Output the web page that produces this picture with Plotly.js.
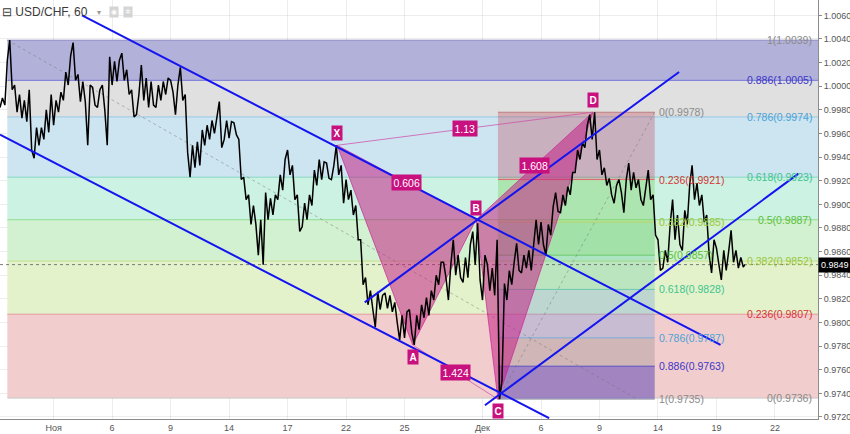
<!DOCTYPE html>
<html><head><meta charset="utf-8">
<script src="https://cdn.plot.ly/plotly-3.0.1.min.js"></script>
<style>html,body{margin:0;padding:0;background:#fff}#chart{width:850px;height:434px}</style>
</head><body><div id="chart"></div>
<script>
// ---------- DATA ----------
// x axis unit: hourly bar index (chart is USD/CHF, 60 min)
const tickBars = [66,138,210,282,354,426,498,594,666,738,810,882,954];
const tickLabels = ['Ноя','6','9','14','17','22','25','Дек','6','9','14','19','22'];

const sampleStep = 6; // bars between price samples
const priceHigh = [
0.9990,1.0022,1.0039,1.0001,0.9993,0.9988,0.9997,0.9965,0.9965,0.9980,
0.9993,0.9988,0.9995,1.0012,1.0026,1.0037,1.0010,1.0004,1.0001,0.9999,
0.9997,1.0001,1.0025,1.0021,1.0022,1.0028,1.0014,0.9997,0.9993,1.0018,
1.0007,1.0004,1.0001,1.0004,1.0007,1.0005,1.0001,1.0016,0.9993,0.9950,
0.9953,0.9963,0.9967,0.9971,0.9973,0.9987,0.9971,0.9970,0.9969,0.9955,
0.9923,0.9908,0.9899,0.9887,0.9910,0.9905,0.9908,0.9925,0.9938,0.9946,
0.9933,0.9908,0.9901,0.9908,0.9929,0.9938,0.9936,0.9935,0.9933,0.9950,
0.9933,0.9921,0.9912,0.9899,0.9870,0.9838,0.9827,0.9826,0.9823,0.9825,
0.9823,0.9817,0.9806,0.9809,0.9811,0.9806,0.9815,0.9821,0.9827,0.9840,
0.9851,0.9851,0.9849,0.9870,0.9857,0.9855,0.9866,0.9877,0.9884,0.9857,
0.9849,0.9846,0.9870,0.9833,0.9844,0.9851,0.9867,0.9857,0.9861,0.9866,
0.9887,0.9885,0.9883,0.9898,0.9910,0.9908,0.9915,0.9927,0.9946,0.9952,
0.9967,0.9976,0.9978,0.9946,0.9931,0.9922,0.9916,0.9921,0.9921,0.9935,
0.9927,0.9921,0.9914,0.9929,0.9908,0.9870,0.9861,0.9883,0.9904,0.9891,
0.9895,0.9916,0.9933,0.9918,0.9908,0.9891,0.9870,0.9863,0.9861,0.9860,
0.9878,0.9861,0.9855];
const priceLow = [
0.9982,0.9984,0.9997,0.9978,0.9973,0.9970,0.9946,0.9939,0.9950,0.9955,
0.9961,0.9967,0.9978,0.9988,1.0001,1.0005,0.9987,0.9987,0.9950,0.9984,
0.9982,0.9980,0.9950,1.0001,1.0004,1.0005,0.9993,0.9974,0.9976,0.9988,
0.9982,0.9984,0.9982,0.9988,0.9993,0.9995,0.9976,0.9988,0.9944,0.9923,
0.9931,0.9933,0.9950,0.9955,0.9960,0.9948,0.9955,0.9956,0.9959,0.9921,
0.9904,0.9883,0.9883,0.9857,0.9849,0.9887,0.9891,0.9904,0.9912,0.9925,
0.9904,0.9877,0.9881,0.9887,0.9899,0.9916,0.9921,0.9922,0.9921,0.9925,
0.9901,0.9904,0.9891,0.9870,0.9832,0.9815,0.9811,0.9796,0.9811,0.9812,
0.9809,0.9800,0.9785,0.9787,0.9791,0.9781,0.9794,0.9804,0.9806,0.9819,
0.9832,0.9838,0.9819,0.9840,0.9838,0.9834,0.9838,0.9849,0.9836,0.9819,
0.9827,0.9823,0.9735,0.9751,0.9819,0.9832,0.9844,0.9842,0.9846,0.9844,
0.9866,0.9866,0.9857,0.9874,0.9894,0.9893,0.9899,0.9908,0.9927,0.9938,
0.9948,0.9955,0.9938,0.9925,0.9916,0.9908,0.9901,0.9910,0.9893,0.9912,
0.9914,0.9904,0.9899,0.9904,0.9874,0.9844,0.9846,0.9851,0.9870,0.9866,
0.9861,0.9883,0.9904,0.9899,0.9885,0.9857,0.9842,0.9849,0.9836,0.9844,
0.9851,0.9846,0.9847];
const lastBar = 917, lastClose = 0.9849;

// Large Fibonacci retracement (from 1.0039 high down to 0.9736)
const bigFibRatios = ['1','0.886','0.786','0.618','0.5','0.382','0.236','0'];
const bigFibPrices = [1.0039,1.0005,0.9974,0.9923,0.9887,0.9852,0.9807,0.9736];
const bigFibStartBar = 9, bigFibTrendEndBar = 782;

// Small Fibonacci retracement (C -> D)
const smallFibRatios = ['0','0.236','0.382','0.5','0.618','0.786','0.886','1'];
const smallFibPrices = [0.9978,0.9921,0.9885,0.9857,0.9828,0.9787,0.9763,0.9735];
const smallFibBars = [613, 806];

// XABCD harmonic pattern
const patternNames = ['X','A','B','C','D'];
const patternBars = [415,508,586,613,730];
const patternPrices = [0.9950,0.9781,0.9887,0.9735,0.9978];
const ratioTexts = ['1.13','0.606','1.608','1.424'];
const ratioLegs = [[0,4],[0,2],[2,4],[1,3]];

// Channel / trend lines (two anchor points each)
const channelBars = [[101,887],[0,676],[597,983],[449,836]];
const channelPrices = [[1.0060,0.9781],[0.9959,0.9719],[0.9730,0.9926],[0.9817,1.0012]];

const yTicks = [0.9720,0.9740,0.9760,0.9780,0.9800,0.9820,0.9840,0.9860,0.9880,0.9900,0.9920,0.9940,0.9960,0.9980,1.0000,1.0020,1.0040,1.0060];

// ---------- STYLE ----------
const XMAX = 1007, YMIN = 0.97183, YMAX = 1.0073;
const ratioLabelColor = {'0':'#8a8a8a','0.236':'#d9333a','0.382':'#9cc63c','0.5':'#5cbf3a','0.618':'#3cc48e','0.786':'#4aa3d6','0.886':'#3a36c8','1':'#8a8a8a'};
const bigBandFill = ['#b2b1d9','#e0e0e0','#cde4f1','#ccf2e3','#d1f1d0','#e4f2cc','#f2cdcd'];
const bigLineColor = ['rgba(110,110,180,0.7)','#7070d8','#96c8e6','#84d8c0','#8edc8e','#c4e08c','#e49a9a','#c8c8c8'];
const smallBandFill = ['rgba(190,55,73,0.3)','rgba(103,198,58,0.3)','rgba(41,188,69,0.28)','rgba(40,180,140,0.22)','rgba(100,150,220,0.3)','rgba(128,128,128,0.3)','rgba(80,60,180,0.5)'];
const smallLineColor = ['rgba(180,110,110,0.8)','#e06a6a','#b8d46a','#6cc86c','#6cc8b0','#78aedc','#5a52c8','#b0b0b0'];
const magenta = '#c8107e';
const FONT = 'Liberation Sans, Arial, sans-serif';

const shapes = [];
for (let k = 0; k < bigFibPrices.length - 1; k++) {
  shapes.push({type:'rect', xref:'x', yref:'y', x0:bigFibStartBar, x1:XMAX, y0:bigFibPrices[k+1], y1:bigFibPrices[k],
    fillcolor:bigBandFill[k], line:{width:0}, layer:'between'});
}
bigFibPrices.forEach((p,k) => shapes.push({type:'line', xref:'x', yref:'y', x0:bigFibStartBar, x1:XMAX, y0:p, y1:p,
  line:{color:bigLineColor[k], width:1}, layer:'between'}));
for (let k = 0; k < smallFibPrices.length - 1; k++) {
  shapes.push({type:'rect', xref:'x', yref:'y', x0:smallFibBars[0], x1:smallFibBars[1], y0:smallFibPrices[k+1], y1:smallFibPrices[k],
    fillcolor:smallBandFill[k], line:{width:0}, layer:'between'});
}
smallFibPrices.forEach((p,k) => shapes.push({type:'line', xref:'x', yref:'y', x0:smallFibBars[0], x1:smallFibBars[1], y0:p, y1:p,
  line:{color:smallLineColor[k], width:1}, layer:'between'}));
// fib trend lines (dotted)
shapes.push({type:'line', xref:'x', yref:'y', x0:bigFibStartBar, y0:bigFibPrices[0], x1:bigFibTrendEndBar, y1:bigFibPrices[bigFibPrices.length-1],
  line:{color:'rgba(110,110,110,0.45)', width:1, dash:'dot'}, layer:'between'});
shapes.push({type:'line', xref:'x', yref:'y', x0:smallFibBars[0], y0:smallFibPrices[smallFibPrices.length-1], x1:smallFibBars[1], y1:smallFibPrices[0],
  line:{color:'rgba(110,110,110,0.45)', width:1, dash:'dot'}, layer:'between'});
// current price line
shapes.push({type:'line', xref:'x', yref:'y', x0:0, x1:XMAX, y0:lastClose, y1:lastClose,
  line:{color:'rgba(90,90,90,0.8)', width:1, dash:'dot'}, layer:'between'});

// ---------- TRACES ----------
const traces = [];
// harmonic triangles XAB and BCD
[[0,1,2],[2,3,4]].forEach(tri => {
  traces.push({type:'scatter', mode:'lines', x:tri.map(i=>patternBars[i]).concat(patternBars[tri[0]]),
    y:tri.map(i=>patternPrices[i]).concat(patternPrices[tri[0]]), fill:'toself',
    fillcolor:'rgba(195,25,130,0.52)', line:{color:'rgba(200,40,150,0.7)', width:1}, hoverinfo:'skip'});
});
// thin ratio legs X-D and A-C
[[0,4],[1,3]].forEach(leg => traces.push({type:'scatter', mode:'lines', x:leg.map(i=>patternBars[i]), y:leg.map(i=>patternPrices[i]),
  line:{color:'rgba(205,80,170,0.75)', width:1}, hoverinfo:'skip'}));

// price (dense hourly bars rendered as high/low strokes)
const px = [], py = [];
for (let i = 0; i < priceHigh.length; i++) {
  const b = i * sampleStep;
  const mid = (priceHigh[i] + priceLow[i]) / 2;
  const nextMid = i + 1 < priceHigh.length ? (priceHigh[i+1] + priceLow[i+1]) / 2 : lastClose;
  if (nextMid >= mid) { px.push(b, b + 3); py.push(priceLow[i], priceHigh[i]); }
  else { px.push(b, b + 3); py.push(priceHigh[i], priceLow[i]); }
}
px.push(lastBar); py.push(lastClose);
traces.push({type:'scatter', mode:'lines', x:px, y:py, line:{color:'#000', width:1.5}, hoverinfo:'skip'});

// blue channel lines
channelBars.forEach((bars,k) => traces.push({type:'scatter', mode:'lines', x:bars, y:channelPrices[k],
  line:{color:'#1414f0', width:2}, hoverinfo:'skip'}));

// ---------- ANNOTATIONS ----------
const ann = [];
bigFibPrices.forEach((p,k) => ann.push({xref:'x', yref:'y', x:1002, y:p, xanchor:'right', yanchor:'middle', showarrow:false,
  text:bigFibRatios[k] + '(' + p.toFixed(4) + ')', font:{family:FONT, size:10.5, color:ratioLabelColor[bigFibRatios[k]]}}));
smallFibPrices.forEach((p,k) => ann.push({xref:'x', yref:'y', x:smallFibBars[1] + 3, y:p, xanchor:'left', yanchor:'middle', showarrow:false,
  text:smallFibRatios[k] + '(' + p.toFixed(4) + ')', font:{family:FONT, size:10.5, color:ratioLabelColor[smallFibRatios[k]]}}));
patternNames.forEach((n,i) => {
  const above = (i % 2 === 0);
  ann.push({xref:'x', yref:'y', x:patternBars[i], y:patternPrices[i], yshift: above ? 12 : -12, showarrow:false,
    text:'<b>' + n + '</b>', bgcolor:magenta, borderpad:1.5, font:{family:FONT, size:10, color:'#fff'}});
});
ratioTexts.forEach((t,k) => {
  const [a,b] = ratioLegs[k];
  ann.push({xref:'x', yref:'y', x:(patternBars[a]+patternBars[b])/2, y:(patternPrices[a]+patternPrices[b])/2, showarrow:false,
    text:t, bgcolor:magenta, borderpad:1.5, font:{family:FONT, size:10.5, color:'#fff'}});
});
// current price tag
ann.push({xref:'paper', yref:'y', x:1, y:lastClose, xanchor:'left', yanchor:'middle', showarrow:false, text:lastClose.toFixed(4),
  bgcolor:'#000', borderpad:2, font:{family:FONT, size:9, color:'#fff'}});
// header
ann.push({xref:'paper', yref:'paper', x:0, y:1, xanchor:'left', yanchor:'top', yshift:-3, showarrow:false,
  text:'⊟ USD/CHF, 60', font:{family:FONT, size:12, color:'#3a3a3a'}});
ann.push({xref:'paper', yref:'paper', x:0.116, y:1, xanchor:'left', yanchor:'top', yshift:-6, showarrow:false,
  text:'▾', font:{family:FONT, size:8, color:'#999'}});
ann.push({xref:'paper', yref:'paper', x:0.133, y:1, xanchor:'left', yanchor:'top', yshift:-6, showarrow:false,
  text:'◉', bgcolor:'#d4d4d4', borderpad:1, font:{family:'DejaVu Sans', size:7, color:'#fff'}});
ann.push({xref:'paper', yref:'paper', x:0.150, y:1, xanchor:'left', yanchor:'top', yshift:-6, showarrow:false,
  text:'✲', bgcolor:'#d4d4d4', borderpad:1, font:{family:'DejaVu Sans', size:7, color:'#fff'}});

const layout = {
  width:850, height:434, margin:{l:0, r:32, t:0, b:15},
  paper_bgcolor:'#fff', plot_bgcolor:'#fff', showlegend:false,
  xaxis:{range:[0, XMAX], tickvals:tickBars, ticktext:tickLabels, showgrid:true, gridcolor:'rgba(0,0,0,0.07)',
    zeroline:false, showline:true, linecolor:'#8c8c8c', ticks:'', tickfont:{family:FONT, size:9, color:'#555'}, fixedrange:true},
  yaxis:{range:[YMIN, YMAX], side:'right', tickvals:yTicks, tickformat:'.4f', showgrid:true, gridcolor:'rgba(0,0,0,0.07)',
    zeroline:false, showline:true, linecolor:'#8c8c8c', ticks:'outside', ticklen:3, tickcolor:'#8c8c8c',
    tickfont:{family:FONT, size:9, color:'#555'}, fixedrange:true},
  shapes:shapes, annotations:ann
};
Plotly.newPlot('chart', traces, layout, {staticPlot:true, displayModeBar:false});
</script></body></html>
